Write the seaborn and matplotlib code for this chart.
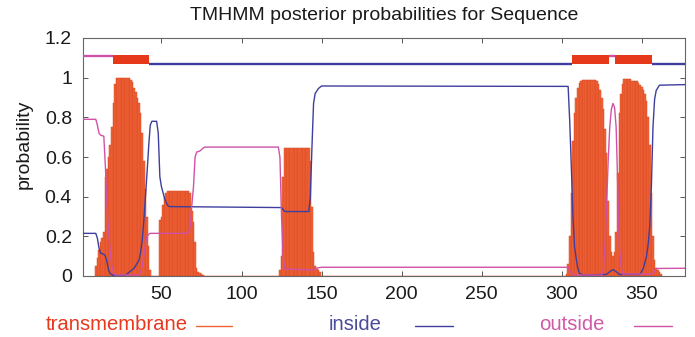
import numpy as np
import pandas as pd
import matplotlib
matplotlib.use("Agg")
import matplotlib.pyplot as plt
from matplotlib.lines import Line2D
import seaborn as sns

# ---------------- data ----------------
title = "TMHMM posterior probabilities for Sequence"
seq_len = 377

# transmembrane posterior probability per residue (non-zero stretches)
tm_seg_starts = [9, 49, 124, 303]
tm_seg_values = [
    [0.05, 0.09, 0.13, 0.17, 0.19, 0.22,
     0.50, 0.54, 0.60, 0.66, 0.75, 0.87, 0.97,
     1.0, 1.0, 1.0, 1.0, 1.0, 1.0, 1.0, 1.0, 1.0,
     0.99, 0.98, 0.95, 0.93, 0.90, 0.87, 0.82, 0.72, 0.58, 0.44, 0.30, 0.15, 0.03],
    [0.28, 0.30, 0.36, 0.40, 0.42,
     0.43, 0.43, 0.43, 0.43, 0.43, 0.43, 0.43, 0.43, 0.43, 0.43, 0.43, 0.43, 0.43, 0.43,
     0.42, 0.33, 0.27, 0.17, 0.04, 0.02, 0.015, 0.01, 0.005],
    [0.03, 0.10, 0.50,
     0.645, 0.645, 0.645, 0.645, 0.645, 0.645, 0.645, 0.645,
     0.645, 0.645, 0.645, 0.645, 0.645, 0.645, 0.645, 0.645,
     0.58, 0.35, 0.12, 0.05, 0.035, 0.03, 0.02],
    [0.01, 0.06, 0.20, 0.42, 0.68, 0.82, 0.90, 0.95, 0.975, 0.985,
     0.99, 0.99, 0.99, 0.99, 0.99, 0.99, 0.99, 0.99, 0.99,
     0.985, 0.97, 0.94, 0.90, 0.84, 0.74, 0.62, 0.38, 0.20, 0.12, 0.10, 0.12,
     0.22, 0.52, 0.82, 0.92, 0.97,
     0.995, 0.995, 0.995, 0.995, 0.995,
     0.985, 0.985, 0.985, 0.985,
     0.975, 0.965, 0.955, 0.94, 0.92, 0.88, 0.80, 0.66, 0.42, 0.20, 0.08, 0.04,
     0.03, 0.02, 0.01],
]

# inside probability (residue, value) at the points where the curve changes
inside_pos = [1, 9, 10, 11, 12, 14, 15, 16, 17, 18, 20, 27, 30, 33, 36, 37, 38, 39,
              40, 41, 42, 43, 44, 47, 48, 49, 50, 51, 52, 53, 54, 55, 125, 126, 127,
              142, 143, 144, 145, 146, 148, 150, 304, 305, 306, 307, 308, 309, 310,
              311, 313, 328, 330, 332, 334, 336, 349, 351, 353, 354, 355, 356, 357,
              358, 359, 361, 377]
inside_prob = [0.215, 0.215, 0.19, 0.14, 0.115, 0.11, 0.10, 0.07, 0.03, 0.012, 0.002,
               0.002, 0.02, 0.04, 0.08, 0.12, 0.18, 0.28, 0.40, 0.52, 0.65, 0.76, 0.78,
               0.78, 0.72, 0.50, 0.45, 0.42, 0.39, 0.37, 0.355, 0.35, 0.345, 0.335,
               0.325, 0.325, 0.40, 0.65, 0.87, 0.92, 0.945, 0.958, 0.956, 0.78, 0.55,
               0.30, 0.15, 0.09, 0.04, 0.015, 0.005, 0.008, 0.022, 0.032, 0.022, 0.008,
               0.008, 0.04, 0.10, 0.16, 0.25, 0.45, 0.75, 0.89, 0.935, 0.962, 0.965]

# outside probability
outside_pos = [1, 9, 10, 11, 12, 14, 15, 16, 17, 18, 19, 20, 21, 36, 37, 38, 39, 40,
               41, 42, 43, 65, 67, 68, 69, 70, 71, 72, 74, 76, 77, 123, 124, 125, 126,
               127, 145, 147, 150, 304, 305, 306, 308, 325, 326, 327, 328, 329, 330,
               331, 332, 333, 334, 335, 336, 337, 338, 357, 358, 359, 377]
outside_prob = [0.79, 0.79, 0.76, 0.72, 0.71, 0.705, 0.55, 0.35, 0.22, 0.12, 0.05,
                0.02, 0.005, 0.005, 0.02, 0.05, 0.10, 0.16, 0.20, 0.21, 0.215, 0.215,
                0.22, 0.25, 0.36, 0.45, 0.60, 0.625, 0.63, 0.645, 0.65, 0.65, 0.60,
                0.30, 0.10, 0.035, 0.03, 0.04, 0.044, 0.044, 0.03, 0.015, 0.005,
                0.005, 0.03, 0.15, 0.35, 0.58, 0.75, 0.84, 0.87, 0.85, 0.75, 0.45,
                0.15, 0.05, 0.01, 0.01, 0.025, 0.038, 0.039]

# predicted topology
topo_start = [1, 20, 43, 307, 330, 334, 357]
topo_end = [19, 42, 306, 329, 333, 356, 377]
topo_state = ["outside", "TMhelix", "inside", "TMhelix", "outside", "TMhelix", "inside"]

x_ticks = [50, 100, 150, 200, 250, 300, 350]
y_ticks = [0, 0.2, 0.4, 0.6, 0.8, 1.0, 1.2]
y_tick_labels = ["0", "0.2", "0.4", "0.6", "0.8", "1", "1.2"]
legend_labels = ["transmembrane", "inside", "outside"]

# ---------------- style ----------------
TM_FILL = "#F06438"
TM_EDGE = "#DC4A22"
TOPO_RED = "#E6391C"
IN_C = "#3E3E9E"
OUT_C = "#CF52A6"
LEG_C = ["#E8381E", "#4B4B9C", "#CF5AA6"]
FS = 14
FS_LEG = 14.6

sns.set_theme(style="ticks")
plt.rcParams["font.family"] = ["Liberation Sans", "DejaVu Sans"]

tm_pos, tm_val = [], []
for s, vals in zip(tm_seg_starts, tm_seg_values):
    tm_pos += list(range(s, s + len(vals)))
    tm_val += vals
tm_df = pd.DataFrame({"pos": tm_pos, "prob": tm_val})
in_df = pd.DataFrame({"pos": inside_pos, "prob": inside_prob})
out_df = pd.DataFrame({"pos": outside_pos, "prob": outside_prob})

fig = plt.figure(figsize=(6.95, 3.37), dpi=100)
fig.patch.set_facecolor("white")
ax = fig.add_axes([83 / 695, 1 - 276 / 337, 602 / 695, 238 / 337])
ax.set_facecolor("white")

sns.histplot(data=tm_df, x="pos", weights="prob", discrete=True, color=TM_FILL,
             edgecolor=TM_EDGE, linewidth=0.35, alpha=1.0, ax=ax, zorder=1)
sns.lineplot(data=in_df, x="pos", y="prob", color=IN_C, linewidth=1.0,
             estimator=None, sort=False, ax=ax, zorder=3)
sns.lineplot(data=out_df, x="pos", y="prob", color=OUT_C, linewidth=1.0,
             estimator=None, sort=False, ax=ax, zorder=3)

# topology track above the probabilities
for s, e, st in zip(topo_start, topo_end, topo_state):
    if st == "TMhelix":
        ax.fill_between([s - 0.5, e + 0.5], 1.069, 1.116, color=TOPO_RED, lw=0, zorder=4)
    elif st == "inside":
        ax.hlines(1.069, s - 0.5, e + 0.5, color=IN_C, lw=1.7, zorder=4)
    else:
        ax.hlines(1.111, s - 0.5, e + 0.5, color=OUT_C, lw=1.7, zorder=4)

ax.set_xlim(1, seq_len)
ax.set_ylim(0, 1.2)
ax.set_xticks(x_ticks)
ax.set_xticklabels([str(t) for t in x_ticks])
ax.set_yticks(y_ticks)
ax.set_yticklabels(y_tick_labels)
ax.set_xlabel("")
ax.set_ylabel("")
ax.tick_params(direction="in", top=True, right=True, length=3.5, width=0.7,
               color="#555555", labelsize=FS, labelcolor="#1a1a1a", pad=8)
ax.tick_params(axis="x", pad=7)
for sp in ax.spines.values():
    sp.set_visible(True)
    sp.set_color("#666666")
    sp.set_linewidth(0.8)

fig.text(384 / 695, 1 - 15 / 337, title, ha="center", va="center",
         fontsize=FS, color="#1a1a1a")
fig.text(24.5 / 695, 1 - 144 / 337, "probability", ha="center", va="center",
         rotation=90, fontsize=FS, color="#1a1a1a")

# legend under the plot (text then line sample)
text_right = [188, 381.5, 604]
line_span = [(196, 232), (415, 453), (634, 672)]
line_cols = [TM_FILL, IN_C, OUT_C]
for lab, tr, (l0, l1), tc, lc in zip(legend_labels, text_right, line_span, LEG_C, line_cols):
    fig.text(tr / 695, 1 - 324 / 337, lab, ha="right", va="center",
             fontsize=FS_LEG, color=tc)
    fig.add_artist(Line2D([l0 / 695, l1 / 695], [1 - 325.5 / 337] * 2,
                          color=lc, lw=1.0, transform=fig.transFigure))

fig.savefig("out.png", dpi=100, facecolor="white")
